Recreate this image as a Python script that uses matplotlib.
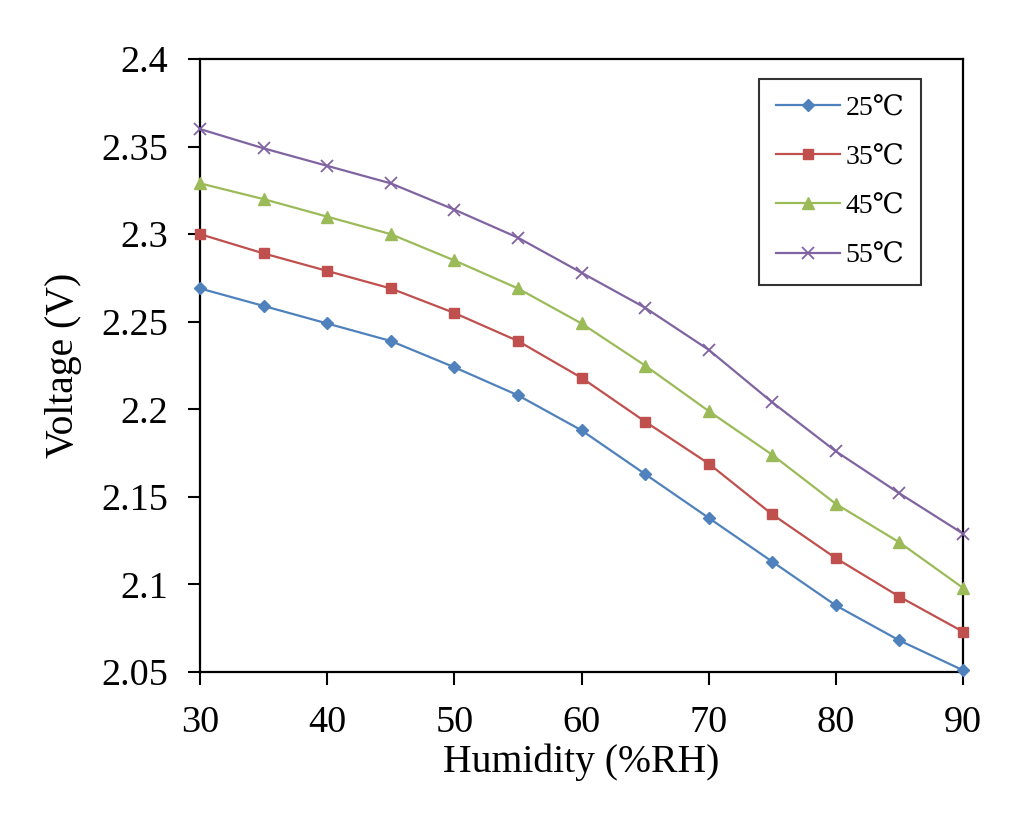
import matplotlib
matplotlib.use('Agg')
import matplotlib.pyplot as plt

# ── Data ─────────────────────────────────────────────────────────────────────
humidity = [30, 35, 40, 45, 50, 55, 60, 65, 70, 75, 80, 85, 90]

v_25 = [2.269, 2.259, 2.249, 2.239, 2.224, 2.208, 2.188, 2.163, 2.138, 2.113, 2.088, 2.068, 2.051]
v_35 = [2.300, 2.289, 2.279, 2.269, 2.255, 2.239, 2.218, 2.193, 2.169, 2.140, 2.115, 2.093, 2.073]
v_45 = [2.329, 2.320, 2.310, 2.300, 2.285, 2.269, 2.249, 2.225, 2.199, 2.174, 2.146, 2.124, 2.098]
v_55 = [2.360, 2.349, 2.339, 2.329, 2.314, 2.298, 2.278, 2.258, 2.234, 2.204, 2.176, 2.152, 2.129]

series_labels = ['25℃', '35℃', '45℃', '55℃']
x_ticks = [30, 40, 50, 60, 70, 80, 90]
y_ticks = [2.05, 2.1, 2.15, 2.2, 2.25, 2.3, 2.35, 2.4]
y_tick_labels = ['2.05', '2.1', '2.15', '2.2', '2.25', '2.3', '2.35', '2.4']

# ── Styles ────────────────────────────────────────────────────────────────────
FONT = ['Liberation Serif', 'DejaVu Serif', 'DejaVu Sans', 'Noto Sans CJK SC']
plt.rcParams['font.family'] = FONT

styles = [
    dict(color='#4F81BD', marker='D', ms=6),
    dict(color='#C0504D', marker='s', ms=7.5),
    dict(color='#9BBB59', marker='^', ms=8),
    dict(color='#8064A2', marker='x', ms=8, mew=1.3),
]

fig = plt.figure(figsize=(10.24, 8.35), dpi=100)
ax = fig.add_axes([200 / 1024, 1 - 672 / 835, 763 / 1024, 613 / 835])

for vals, lab, st in zip([v_25, v_35, v_45, v_55], series_labels, styles):
    ax.plot(humidity, vals, lw=1.6, label=lab, clip_on=False, zorder=3, **st)

ax.set_xlim(30, 90)
ax.set_ylim(2.05, 2.4)
ax.set_xticks(x_ticks)
ax.set_yticks(y_ticks)
ax.set_yticklabels(y_tick_labels)

ax.tick_params(direction='out', length=9, width=1.5, labelsize=27.5)
ax.tick_params(axis='x', pad=15)
ax.tick_params(axis='y', pad=14)
for sp in ax.spines.values():
    sp.set_linewidth(1.6)
    sp.set_color('black')

ax.set_xlabel('Humidity (%RH)', fontsize=28.5, labelpad=3)
ax.set_ylabel('Voltage (V)', fontsize=28.5, labelpad=14)

leg = ax.legend(
    loc='upper right',
    bbox_to_anchor=(921 / 1024, 1 - 79 / 835),
    bbox_transform=fig.transFigure,
    borderaxespad=0,
    fontsize=20,
    frameon=True,
    fancybox=False,
    edgecolor='black',
    handlelength=2.3,
    handletextpad=0.2,
    labelspacing=0.85,
    borderpad=0.6,
)
leg.get_frame().set_linewidth(1.5)

fig.savefig('out.png', dpi=100)
